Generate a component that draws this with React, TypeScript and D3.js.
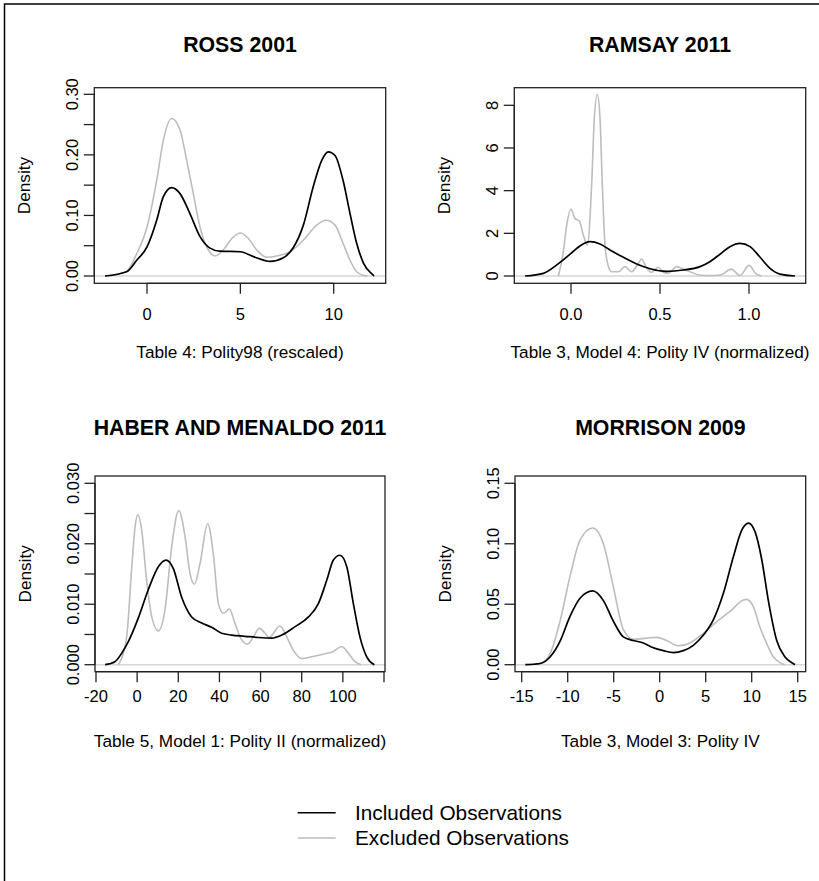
import React from "react";
import * as d3 from "d3";

// ---------------- DATA ----------------
const LEGEND_LABELS = ["Included Observations", "Excluded Observations"];

// ROSS 2001
const rossIncX = [-2.25, -1.09, -0.55, 0, 0.52, 0.875, 1.32, 1.77, 2.3, 2.84, 3.375, 3.9, 5, 5.7, 6.6, 7.3, 7.84, 8.375, 8.9, 9.36, 9.71, 10.07, 10.5, 10.875, 11.23, 11.6, 12.1, 12.16];
const rossIncY = [0, 0.007, 0.026, 0.048, 0.092, 0.131, 0.146, 0.136, 0.103, 0.065, 0.046, 0.041, 0.04, 0.032, 0.024, 0.03, 0.047, 0.084, 0.147, 0.191, 0.205, 0.199, 0.158, 0.103, 0.054, 0.021, 0.002, 0];
const rossExcX = [-2.1, -1.09, -0.55, 0, 0.52, 0.875, 1.32, 1.77, 2.125, 2.48, 2.84, 3.2, 3.64, 4.09, 4.54, 5.0, 5.43, 5.875, 6.4, 6.95, 7.66, 8.375, 9.09, 9.59, 10.07, 10.5, 10.875, 11.23, 11.6, 11.8];
const rossExcY = [0, 0.008, 0.037, 0.081, 0.158, 0.224, 0.26, 0.241, 0.191, 0.136, 0.081, 0.048, 0.033, 0.043, 0.062, 0.071, 0.062, 0.043, 0.031, 0.033, 0.04, 0.059, 0.084, 0.092, 0.084, 0.054, 0.026, 0.007, 0.001, 0];
const rossXTicks = [0, 5, 10];
const rossYTicks = [0, 0.05, 0.1, 0.15, 0.2, 0.25, 0.3];
const rossYLabels = ["0.00", "", "0.10", "", "0.20", "", "0.30"];

// RAMSAY 2011
const ramsayIncX = [-0.258, -0.155, -0.08, 0, 0.05, 0.107, 0.163, 0.219, 0.294, 0.369, 0.444, 0.537, 0.631, 0.725, 0.78, 0.837, 0.893, 0.949, 1.006, 1.06, 1.118, 1.174, 1.258];
const ramsayIncY = [0, 0.125, 0.52, 1.06, 1.41, 1.61, 1.5, 1.22, 0.875, 0.56, 0.34, 0.22, 0.28, 0.44, 0.67, 1.02, 1.375, 1.53, 1.375, 0.9, 0.36, 0.09, 0];
const ramsayExcX = [-0.071, -0.043, -0.024, 0, 0.022, 0.047, 0.069, 0.092, 0.116, 0.131, 0.148, 0.163, 0.176, 0.191, 0.21, 0.228, 0.266, 0.303, 0.341, 0.373, 0.397, 0.421, 0.453, 0.49, 0.519, 0.547, 0.594, 0.62, 0.669, 0.72, 0.78, 0.84, 0.9, 0.95, 1.0, 1.04, 1.07];
const ramsayExcY = [0, 1.14, 2.39, 3.125, 2.7, 2.58, 1.92, 1.45, 4.27, 7.4, 8.52, 7.4, 4.27, 1.45, 0.44, 0.2, 0.2, 0.44, 0.2, 0.52, 0.8, 0.44, 0.17, 0.41, 0.17, 0.13, 0.44, 0.36, 0.2, 0.05, 0.02, 0.05, 0.32, 0.02, 0.5, 0.1, 0];
const ramsayXTicks = [0, 0.5, 1];
const ramsayXLabels = ["0.0", "0.5", "1.0"];
const ramsayYTicks = [0, 2, 4, 6, 8];
const ramsayYLabels = ["0", "2", "4", "6", "8"];

// HABER AND MENALDO 2011
const haberIncX = [-15.6, -10.8, -7.5, -4.3, 0.55, 5.4, 10.3, 14.0, 17.6, 21.6, 26.5, 31.4, 36.2, 41.1, 45.9, 52.4, 58.9, 65.4, 70.3, 76.8, 83.3, 88.1, 92.2, 95.4, 98.6, 101.9, 105.1, 108.3, 111.6, 115.3];
const haberIncY = [0, 0.0005, 0.0019, 0.0038, 0.0077, 0.0124, 0.0162, 0.0173, 0.0159, 0.0112, 0.0079, 0.0069, 0.0062, 0.0052, 0.0049, 0.0047, 0.0045, 0.0044, 0.0049, 0.0063, 0.0079, 0.0101, 0.014, 0.0173, 0.0181, 0.0162, 0.0101, 0.0046, 0.0013, 0];
const haberExcX = [-9.1, -5.1, -2.7, -1.0, 0.26, 2.2, 4.6, 7.1, 10.3, 13.5, 16.8, 20.2, 23.3, 25.7, 27.8, 30.6, 34.3, 37.0, 39.5, 41.9, 44.8, 47.6, 50.8, 53.7, 56.5, 59.4, 62.2, 64.1, 69.4, 72.7, 75.9, 80.0, 84.8, 91.3, 95.4, 99.4, 102.7, 105.9, 108.8];
const haberExcY = [0, 0.0046, 0.0157, 0.0228, 0.0248, 0.0223, 0.014, 0.0079, 0.0056, 0.009, 0.0195, 0.0255, 0.0212, 0.0151, 0.0133, 0.0168, 0.0233, 0.0184, 0.0101, 0.0085, 0.0092, 0.0068, 0.0041, 0.0034, 0.0046, 0.006, 0.0052, 0.0045, 0.0064, 0.0046, 0.0024, 0.001, 0.0013, 0.0018, 0.0022, 0.003, 0.0019, 0.0005, 0];
const haberXTicks = [-20, 0, 20, 40, 60, 80, 100, 120];
const haberXLabels = ["-20", "0", "20", "40", "60", "80", "100", ""];
const haberYTicks = [0, 0.005, 0.01, 0.015, 0.02, 0.025, 0.03];
const haberYLabels = ["0.000", "", "0.010", "", "0.020", "", "0.030"];

// MORRISON 2009
const morrisonIncX = [-14.6, -13.0, -11.9, -10.8, -9.75, -8.66, -7.28, -6.12, -5.04, -3.95, -2.86, -1.78, -0.69, 0.4, 1.49, 2.57, 3.66, 4.75, 5.83, 6.92, 8.0, 8.91, 9.64, 10.36, 11.09, 11.81, 12.72, 13.6, 14.5, 14.7];
const morrisonIncY = [0, 0.001, 0.0066, 0.02, 0.04, 0.055, 0.061, 0.053, 0.036, 0.023, 0.02, 0.018, 0.014, 0.0116, 0.01, 0.0116, 0.016, 0.0245, 0.037, 0.059, 0.089, 0.111, 0.117, 0.11, 0.087, 0.053, 0.02, 0.0066, 0.001, 0];
const morrisonExcX = [-14.6, -13.0, -11.9, -10.8, -9.75, -8.66, -7.28, -6.12, -5.04, -3.95, -2.86, -1.41, -0.33, 0.76, 2.03, 3.3, 4.75, 6.2, 7.64, 9.1, 9.46, 10.18, 10.9, 11.63, 12.35, 13.07, 13.6];
const morrisonExcY = [0, 0.001, 0.0094, 0.037, 0.073, 0.103, 0.113, 0.1, 0.0645, 0.029, 0.021, 0.022, 0.0226, 0.02, 0.0157, 0.018, 0.026, 0.0356, 0.044, 0.0535, 0.054, 0.048, 0.031, 0.0176, 0.0066, 0.0017, 0];
const morrisonXTicks = [-15, -10, -5, 0, 5, 10, 15];
const morrisonYTicks = [0, 0.05, 0.1, 0.15];
const morrisonYLabels = ["0.00", "0.05", "0.10", "0.15"];

// ---------------- STYLE / LAYOUT ----------------
const FONT = "'Liberation Sans', Arial, Helvetica, sans-serif";
const INC_COLOR = "#000000";
const EXC_COLOR = "#bdbdbd";
const ZERO_COLOR = "#d6d6d6";
const TICK_FS = 16.5;
const LAB_FS = 17.2;
const TITLE_FS = 21.3;
const LEGEND_FS = 20.8;

type PanelDef = {
  title: string;
  xlab: string;
  box: [number, number, number, number];
  xDomain: [number, number];
  xRange: [number, number];
  yDomain: [number, number];
  yRange: [number, number];
  xTicks: number[];
  xLabels: string[];
  yTicks: number[];
  yLabels: string[];
  inc: [number[], number[]];
  exc: [number[], number[]];
  titleY: number;
  xTickLabelY: number;
  xlabY: number;
};

const panels: PanelDef[] = [
  {
    title: "ROSS 2001",
    xlab: "Table 4: Polity98 (rescaled)",
    box: [94.3, 87.7, 385.7, 283.3],
    xDomain: [0, 10], xRange: [147, 333.7],
    yDomain: [0, 0.3], yRange: [276, 94.3],
    xTicks: rossXTicks, xLabels: rossXTicks.map(String),
    yTicks: rossYTicks, yLabels: rossYLabels,
    inc: [rossIncX, rossIncY], exc: [rossExcX, rossExcY],
    titleY: 52, xTickLabelY: 320, xlabY: 358,
  },
  {
    title: "RAMSAY 2011",
    xlab: "Table 3, Model 4: Polity IV (normalized)",
    box: [514.3, 87.7, 805.7, 283.3],
    xDomain: [0, 1], xRange: [571, 749],
    yDomain: [0, 8], yRange: [276, 105.3],
    xTicks: ramsayXTicks, xLabels: ramsayXLabels,
    yTicks: ramsayYTicks, yLabels: ramsayYLabels,
    inc: [ramsayIncX, ramsayIncY], exc: [ramsayExcX, ramsayExcY],
    titleY: 52, xTickLabelY: 320, xlabY: 358,
  },
  {
    title: "HABER AND MENALDO 2011",
    xlab: "Table 5, Model 1: Polity II (normalized)",
    box: [95, 476, 385, 671.7],
    xDomain: [-20, 120], xRange: [96, 384],
    yDomain: [0, 0.03], yRange: [664.7, 483.3],
    xTicks: haberXTicks, xLabels: haberXLabels,
    yTicks: haberYTicks, yLabels: haberYLabels,
    inc: [haberIncX, haberIncY], exc: [haberExcX, haberExcY],
    titleY: 435, xTickLabelY: 701.5, xlabY: 747,
  },
  {
    title: "MORRISON 2009",
    xlab: "Table 3, Model 3: Polity IV",
    box: [515, 476, 805.7, 671.7],
    xDomain: [-15, 15], xRange: [521.7, 797.7],
    yDomain: [0, 0.15], yRange: [664.7, 483.3],
    xTicks: morrisonXTicks, xLabels: morrisonXTicks.map(String),
    yTicks: morrisonYTicks, yLabels: morrisonYLabels,
    inc: [morrisonIncX, morrisonIncY], exc: [morrisonExcX, morrisonExcY],
    titleY: 435, xTickLabelY: 701.5, xlabY: 747,
  },
];

function Panel({ p }: { p: PanelDef }) {
  const x = d3.scaleLinear().domain(p.xDomain).range(p.xRange);
  const y = d3.scaleLinear().domain(p.yDomain).range(p.yRange);
  const [bx0, by0, bx1, by1] = p.box;
  const line = d3
    .line<[number, number]>()
    .x((d) => x(d[0]))
    .y((d) => y(d[1]))
    .curve(d3.curveMonotoneX);
  const incPts = p.inc[0].map((v, i) => [v, p.inc[1][i]] as [number, number]);
  const excPts = p.exc[0].map((v, i) => [v, p.exc[1][i]] as [number, number]);
  const cx = (bx0 + bx1) / 2;
  const tickLen = 10.5;
  const yTickLabelX = bx0 - 16.5;
  const densityX = bx0 - 64;
  const yMid = (by0 + by1) / 2;
  return (
    <g>
      <text x={cx} y={p.titleY} textAnchor="middle" fontWeight="bold" fontSize={TITLE_FS} fontFamily={FONT}>
        {p.title}
      </text>
      <line x1={bx0} x2={bx1} y1={y(0)} y2={y(0)} stroke={ZERO_COLOR} strokeWidth={1.5} />
      <path d={line(excPts) || ""} fill="none" stroke={EXC_COLOR} strokeWidth={1.6} />
      <path d={line(incPts) || ""} fill="none" stroke={INC_COLOR} strokeWidth={1.7} />
      <rect x={bx0} y={by0} width={bx1 - bx0} height={by1 - by0} fill="none" stroke="#222" strokeWidth={1.3} />
      <line x1={x(p.xTicks[0])} x2={x(p.xTicks[p.xTicks.length - 1])} y1={by1} y2={by1} stroke="#222" strokeWidth={1.3} />
      {p.xTicks.map((t, i) => (
        <g key={"xt" + i}>
          <line x1={x(t)} x2={x(t)} y1={by1} y2={by1 + tickLen} stroke="#222" strokeWidth={1.3} />
          {p.xLabels[i] ? (
            <text x={x(t)} y={p.xTickLabelY} textAnchor="middle" fontSize={TICK_FS} fontFamily={FONT}>
              {p.xLabels[i]}
            </text>
          ) : null}
        </g>
      ))}
      <line x1={bx0} x2={bx0} y1={y(p.yTicks[0])} y2={y(p.yTicks[p.yTicks.length - 1])} stroke="#222" strokeWidth={1.3} />
      {p.yTicks.map((t, i) => (
        <g key={"yt" + i}>
          <line x1={bx0 - tickLen} x2={bx0} y1={y(t)} y2={y(t)} stroke="#222" strokeWidth={1.3} />
          {p.yLabels[i] ? (
            <text
              transform={`translate(${yTickLabelX},${y(t)}) rotate(-90)`}
              textAnchor="middle"
              fontSize={TICK_FS}
              fontFamily={FONT}
            >
              {p.yLabels[i]}
            </text>
          ) : null}
        </g>
      ))}
      <text transform={`translate(${densityX},${yMid}) rotate(-90)`} textAnchor="middle" fontSize={LAB_FS} fontFamily={FONT}>
        Density
      </text>
      <text x={cx} y={p.xlabY} textAnchor="middle" fontSize={LAB_FS} fontFamily={FONT}>
        {p.xlab}
      </text>
    </g>
  );
}

export default function App() {
  const legendColors = [INC_COLOR, EXC_COLOR];
  const legendY = [812.7, 838];
  return (
    <svg width={819} height={881} style={{ position: "absolute", left: 0, top: 0, background: "#fff" }}>
      <rect x={0} y={0} width={819} height={881} fill="#fff" />
      <rect x={4.5} y={4} width={1000} height={1000} fill="none" stroke="#000" strokeWidth={1.5} />
      {panels.map((p, i) => (
        <Panel key={i} p={p} />
      ))}
      {LEGEND_LABELS.map((lab, i) => (
        <g key={lab}>
          <line x1={297.7} x2={335.7} y1={legendY[i]} y2={legendY[i]} stroke={legendColors[i]} strokeWidth={1.6} />
          <text x={355} y={legendY[i] + 7.3} fontSize={LEGEND_FS} fontFamily={FONT}>
            {lab}
          </text>
        </g>
      ))}
    </svg>
  );
}
